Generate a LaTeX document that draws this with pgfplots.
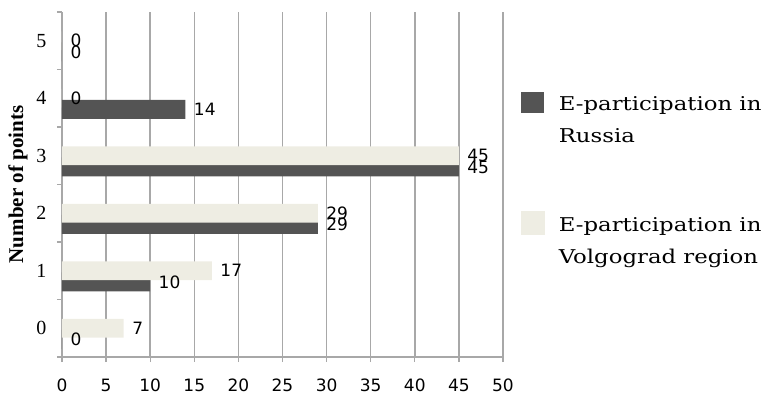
\documentclass[border=0pt]{standalone}
\usepackage{pgfplots}
\pgfplotsset{compat=1.18}
\usepackage{fontspec}
\setmainfont{DejaVu Serif}
\newfontfamily\numfont{DejaVu Sans}
\newfontfamily\legfont[FakeStretch=1.2]{DejaVu Serif}
\newfontfamily\ylabfont{Liberation Serif}
\definecolor{darkbar}{HTML}{545454}
\definecolor{lightbar}{HTML}{EEEDE3}
\definecolor{gridgray}{HTML}{A8A8A8}
\begin{document}
\begin{tikzpicture}
\useasboundingbox (-62bp,-42bp) rectangle (702bp,357bp);
\begin{axis}[
  scale only axis, width=441bp, height=345bp,
  xmin=0, xmax=50, ymin=-0.5, ymax=5.5,
  axis x line=bottom, axis y line=left,
  axis line style={-, draw=gridgray, line width=1.2bp},
  xtick={0,5,...,50}, minor xtick={0,5,...,50},
  ytick={0,...,5}, minor ytick={-0.5,0.5,...,5.5},
  major tick length=0pt, minor tick length=5bp,
  tick align=outside,
  tick style={draw=gridgray, line width=1.2bp},
  xmajorgrids, grid style={draw=gridgray, line width=1.5bp},
  xticklabel style={font=\fontsize{17bp}{20bp}\numfont, yshift=-21bp, inner sep=1bp},
  yticklabel style={font=\fontsize{20bp}{22bp}\ylabfont, xshift=-12bp},
  /pgf/number format/assume math mode=true,
  every axis y label/.style={at={(axis description cs:-0.1,0.5)}, rotate=90, anchor=center},
  ylabel={Number of points},
  ylabel style={font=\fontsize{21bp}{24bp}\ylabfont\bfseries},
  xbar, bar width=0.33,
  nodes near coords,
  nodes near coords style={font=\fontsize{17bp}{20bp}\numfont, text=black, xshift=5bp},
  legend style={draw=none, fill=none, at={(axis description cs:1.04,0.786)}, anchor=north west,
    font=\fontsize{19bp}{32bp}\legfont, row sep=93bp, column sep=12bp, inner sep=0pt},
  legend cell align=left,
]
\addplot[draw=none, fill=darkbar, bar shift=-0.195,
  legend image code/.code={\fill[darkbar] (0bp,-13bp) rectangle (23bp,8bp);}]
  coordinates {(0,0) (10,1) (29,2) (45,3) (14,4) (0,5)};
\addlegendentry{\begin{tabular}[t]{@{}l@{}}E-participation in\\Russia\end{tabular}}
\addplot[draw=none, fill=lightbar, bar shift=0,
  legend image code/.code={\fill[lightbar] (0bp,-14bp) rectangle (24bp,10bp);}]
  coordinates {(7,0) (17,1) (29,2) (45,3) (0,4) (0,5)};
\addlegendentry{\begin{tabular}[t]{@{}l@{}}E-participation in\\Volgograd region\end{tabular}}
\end{axis}
\end{tikzpicture}
\end{document}
